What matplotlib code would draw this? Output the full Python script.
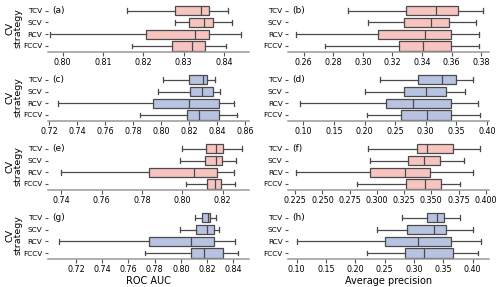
import matplotlib.pyplot as plt
import matplotlib.transforms as mtransforms

strategies = ["TCV", "SCV", "RCV", "FCCV"]

# box stats per strategy: whisker low, q1, median, q3, whisker high
roc_a = [[0.8160, 0.8280, 0.8344, 0.8364, 0.8411],
         [0.8280, 0.8314, 0.8350, 0.8374, 0.8419],
         [0.7970, 0.8206, 0.8329, 0.8364, 0.8442],
         [0.8171, 0.8271, 0.8320, 0.8352, 0.8405]]
ap_b = [[0.2900, 0.3290, 0.3495, 0.3645, 0.3815],
        [0.3035, 0.3280, 0.3460, 0.3585, 0.3765],
        [0.2550, 0.3100, 0.3420, 0.3595, 0.3785],
        [0.2744, 0.3245, 0.3405, 0.3595, 0.3785]]
roc_c = [[0.8010, 0.8200, 0.8295, 0.8325, 0.8380],
         [0.7975, 0.8205, 0.8290, 0.8365, 0.8420],
         [0.7260, 0.7940, 0.8195, 0.8410, 0.8515],
         [0.7850, 0.8180, 0.8265, 0.8410, 0.8540]]
ap_d = [[0.2250, 0.2870, 0.3260, 0.3490, 0.3770],
        [0.2000, 0.2650, 0.3010, 0.3330, 0.3650],
        [0.0950, 0.2350, 0.2790, 0.3420, 0.3850],
        [0.2040, 0.2600, 0.3020, 0.3420, 0.3890]]
roc_e = [[0.8000, 0.8115, 0.8165, 0.8200, 0.8295],
         [0.7990, 0.8110, 0.8168, 0.8195, 0.8265],
         [0.7400, 0.7835, 0.8060, 0.8172, 0.8255],
         [0.8020, 0.8120, 0.8162, 0.8190, 0.8262]]
ap_f = [[0.2920, 0.3370, 0.3460, 0.3695, 0.3950],
        [0.2935, 0.3285, 0.3430, 0.3580, 0.3800],
        [0.2255, 0.2935, 0.3255, 0.3485, 0.3880],
        [0.2815, 0.3270, 0.3440, 0.3590, 0.3760]]
roc_g = [[0.8105, 0.8160, 0.8210, 0.8225, 0.8270],
         [0.7995, 0.8115, 0.8200, 0.8250, 0.8295],
         [0.7070, 0.7760, 0.8075, 0.8250, 0.8415],
         [0.7725, 0.8075, 0.8175, 0.8325, 0.8440]]
ap_h = [[0.2800, 0.3230, 0.3390, 0.3520, 0.3780],
        [0.2370, 0.2880, 0.3340, 0.3550, 0.4010],
        [0.1000, 0.2500, 0.3070, 0.3640, 0.4150],
        [0.2200, 0.2850, 0.3170, 0.3660, 0.4100]]

panels = [roc_a, ap_b, roc_c, ap_d, roc_e, ap_f, roc_g, ap_h]
letters = ["(a)", "(b)", "(c)", "(d)", "(e)", "(f)", "(g)", "(h)"]
xlims = [(0.7964, 0.8462), (0.2495, 0.3853), (0.719, 0.8625), (0.075, 0.4035),
         (0.7334, 0.8330), (0.2185, 0.4030), (0.6985, 0.8520), (0.0855, 0.4280)]
xticks = [[0.80, 0.81, 0.82, 0.83, 0.84],
          [0.26, 0.28, 0.30, 0.32, 0.34, 0.36, 0.38],
          [0.72, 0.74, 0.76, 0.78, 0.80, 0.82, 0.84, 0.86],
          [0.10, 0.15, 0.20, 0.25, 0.30, 0.35, 0.40],
          [0.74, 0.76, 0.78, 0.80, 0.82],
          [0.225, 0.250, 0.275, 0.300, 0.325, 0.350, 0.375, 0.400],
          [0.72, 0.74, 0.76, 0.78, 0.80, 0.82, 0.84],
          [0.10, 0.15, 0.20, 0.25, 0.30, 0.35, 0.40]]
tick_fmt = ["%.2f", "%.2f", "%.2f", "%.2f", "%.2f", "%.3f", "%.2f", "%.2f"]

pink = "#f7c4c0"
blue = "#b7c3e1"
edge = "#4a4a4a"

fig, axes = plt.subplots(4, 2, figsize=(5.0, 2.87), dpi=100)
plt.subplots_adjust(left=0.096, right=0.978, top=0.983, bottom=0.098,
                    hspace=0.47, wspace=0.195)

for i, ax in enumerate(axes.flat):
    data = panels[i]
    color = pink if (i // 2) % 2 == 0 else blue
    stats = []
    for s in data:
        stats.append({"whislo": s[0], "q1": s[1], "med": s[2],
                      "q3": s[3], "whishi": s[4]})
    ax.bxp(stats, positions=range(len(strategies)), orientation="horizontal",
           widths=0.8, patch_artist=True, showfliers=False,
           boxprops=dict(facecolor=color, edgecolor=edge, linewidth=0.9),
           medianprops=dict(color=edge, linewidth=0.9),
           whiskerprops=dict(color=edge, linewidth=0.9),
           capprops=dict(color=edge, linewidth=0.9))
    ax.set_ylim(3.5, -0.5)
    ax.set_yticks(range(len(strategies)))
    ax.set_yticklabels(strategies)
    ax.set_xlim(*xlims[i])
    ax.set_xticks(xticks[i])
    ax.set_xticklabels([tick_fmt[i] % t for t in xticks[i]])
    ax.tick_params(axis="x", labelsize=5.8, length=3, width=0.8,
                   color="#555555", pad=1.5)
    ax.tick_params(axis="y", labelsize=5.3, length=2.5, width=0.8,
                   color="#555555", pad=1.5)
    for side in ["top", "right", "left"]:
        ax.spines[side].set_visible(False)
    ax.spines["bottom"].set_color("#999999")
    ax.spines["bottom"].set_linewidth(1.1)
    trans = mtransforms.blended_transform_factory(ax.transAxes, ax.transData)
    ax.text(0.022, 0, letters[i], transform=trans, fontsize=6.5, va="center")
    if i % 2 == 0:
        ax.set_ylabel("CV\nstrategy", fontsize=6.8, linespacing=0.85)
        ax.yaxis.set_label_coords(-0.127, 0.5)

axes[3, 0].set_xlabel("ROC AUC", fontsize=7, labelpad=1)
axes[3, 1].set_xlabel("Average precision", fontsize=7, labelpad=1)

plt.savefig("out.png")
